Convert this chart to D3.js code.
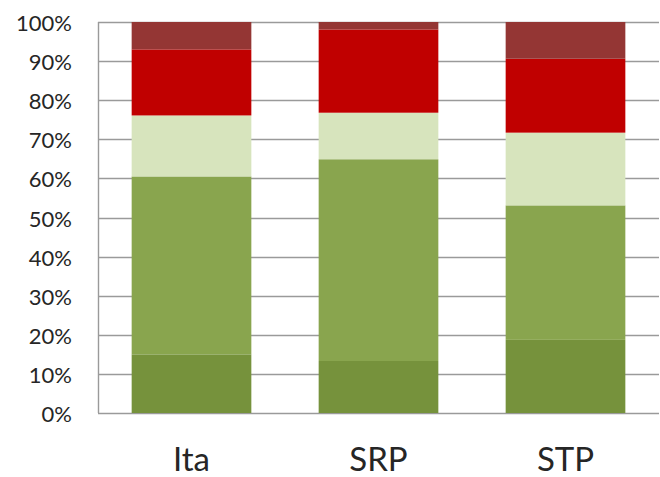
<!DOCTYPE html>
<html>
<head>
<meta charset="utf-8">
<script src="https://cdn.jsdelivr.net/npm/d3@7"></script>
<style>
  body { margin: 0; background: #fff; }
  svg { display: block; }
  .tick-label { font-family: Lato, "Open Sans", sans-serif; fill: #262626; }
</style>
</head>
<body>
<div id="app"></div>
<script>
// categories and stacked shares (%), bottom to top
const categories = ["Ita", "SRP", "STP"];
const seriesKeys = ["s1", "s2", "s3", "s4", "s5"];
const s1 = [15.0, 13.3, 18.7];
const s2 = [45.5, 51.6, 34.4];
const s3 = [15.6, 11.9, 18.6];
const s4 = [16.9, 21.3, 18.9];
const s5 = [7.0, 1.9, 9.4];
const yTicks = [0, 10, 20, 30, 40, 50, 60, 70, 80, 90, 100];
const colors = ["#76923C", "#89A54E", "#D7E4BD", "#C00000", "#943634"];

function plotChart() {
    const svgWidth = 660;
    const svgHeight = 477;
    const margin = { top: 22, bottom: 64, left: 98, right: 1 };
    const width = svgWidth - margin.left - margin.right;
    const height = svgHeight - margin.top - margin.bottom;

    const rows = categories.map(function(c, i) {
        return { cat: c, s1: s1[i], s2: s2[i], s3: s3[i], s4: s4[i], s5: s5[i] };
    });
    const stacked = d3.stack().keys(seriesKeys)(rows);

    const svg = d3.select("#app").append("svg")
        .attr("width", svgWidth)
        .attr("height", svgHeight);

    const x = d3.scaleBand()
        .domain(categories)
        .range([0, width])
        .paddingInner(0.36)
        .paddingOuter(0.18);

    const y = d3.scaleLinear()
        .domain([0, 100])
        .range([height, 0]);

    const chart = svg.append("g")
        .attr("transform", "translate(" + margin.left + "," + margin.top + ")");

    // gridlines
    chart.selectAll(".grid")
        .data(yTicks)
        .enter()
            .append("line")
            .attr("x1", 0)
            .attr("x2", width)
            .attr("y1", d => Math.round(y(d)) + 0.5)
            .attr("y2", d => Math.round(y(d)) + 0.5)
            .attr("stroke", "#9a9a9a")
            .attr("stroke-width", 1.4);

    // left axis line
    chart.append("line")
        .attr("x1", 0.5).attr("x2", 0.5)
        .attr("y1", y(100)).attr("y2", y(0))
        .attr("stroke", "#9a9a9a")
        .attr("stroke-width", 1.4);

    // y tick labels
    chart.selectAll(".y-label")
        .data(yTicks)
        .enter()
            .append("text")
            .classed("tick-label", true)
            .attr("x", -26)
            .attr("y", d => y(d))
            .attr("dy", 9)
            .attr("text-anchor", "end")
            .attr("font-size", 22)
            .text(d => d + "%");

    // stacked bars
    chart.selectAll(".series")
        .data(stacked)
        .enter()
            .append("g")
            .attr("fill", (d, i) => colors[i])
            .selectAll("rect")
            .data(d => d)
            .enter()
                .append("rect")
                .attr("x", d => x(d.data.cat))
                .attr("width", x.bandwidth())
                .attr("y", d => y(d[1]))
                .attr("height", d => y(d[0]) - y(d[1]));

    // x labels
    chart.selectAll(".cat-label")
        .data(categories)
        .enter()
            .append("text")
            .classed("tick-label", true)
            .attr("x", d => x(d) + x.bandwidth() / 2)
            .attr("y", height + 58)
            .attr("text-anchor", "middle")
            .attr("font-size", 33)
            .text(d => d);
}

plotChart();
</script>
</body>
</html>
